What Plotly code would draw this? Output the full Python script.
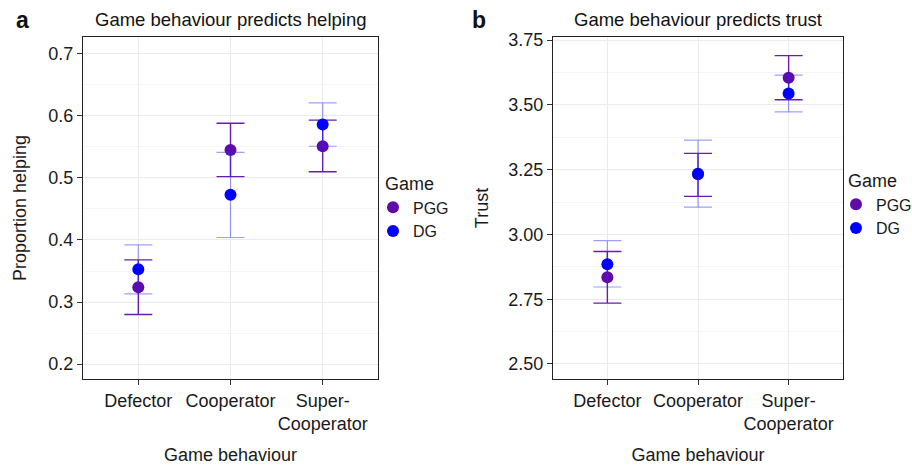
import plotly.graph_objects as go

categories = ["Defector", "Cooperator", "Super-Cooperator"]
tick_labels = ["Defector", "Cooperator", "Super-<br>Cooperator"]

# Panel a: proportion helping
help_pgg = [0.324, 0.545, 0.551]
help_pgg_lo = [0.280, 0.502, 0.510]
help_pgg_hi = [0.368, 0.588, 0.593]
help_dg = [0.353, 0.473, 0.586]
help_dg_lo = [0.313, 0.404, 0.551]
help_dg_hi = [0.392, 0.541, 0.621]

# Panel b: trust
trust_pgg = [2.835, 3.232, 3.605]
trust_pgg_lo = [2.735, 3.147, 3.520]
trust_pgg_hi = [2.934, 3.313, 3.690]
trust_dg = [2.885, 3.234, 3.544]
trust_dg_lo = [2.797, 3.105, 3.473]
trust_dg_hi = [2.976, 3.364, 3.615]

PGG_COL = "#5E0BA8"
PGG_ERR = "#6A1BB3"
DG_COL = "#0000FF"
DG_ERR = "rgba(40,40,255,0.45)"
FONT = "Liberation Sans, Arial, Helvetica, sans-serif"
FS = 18

W, H = 912, 468

def err(mean, lo, hi):
    return dict(type="data", symmetric=False,
                array=[h - m for h, m in zip(hi, mean)],
                arrayminus=[m - l for m, l in zip(mean, lo)])

fig = go.Figure()

def add_panel(xa, ya, leg, pgg, plo, phi, dg, dlo, dhi):
    e = err(pgg, plo, phi)
    e.update(color=PGG_ERR, thickness=1.4, width=14)
    fig.add_trace(go.Scatter(x=categories, y=pgg, mode="markers", name="PGG",
                             xaxis=xa, yaxis=ya, legend=leg,
                             marker=dict(color=PGG_COL, size=12),
                             error_y=e))
    e = err(dg, dlo, dhi)
    e.update(color=DG_ERR, thickness=1.2, width=14)
    fig.add_trace(go.Scatter(x=categories, y=dg, mode="markers", name="DG",
                             xaxis=xa, yaxis=ya, legend=leg,
                             marker=dict(color=DG_COL, size=12),
                             error_y=e))

add_panel("x", "y", "legend", help_pgg, help_pgg_lo, help_pgg_hi,
          help_dg, help_dg_lo, help_dg_hi)
add_panel("x2", "y2", "legend2", trust_pgg, trust_pgg_lo, trust_pgg_hi,
          trust_dg, trust_dg_lo, trust_dg_hi)

GRID = "#EBEBEF"
MINOR = "#F5F5F7"

xcommon = dict(type="category", categoryorder="array", categoryarray=categories,
               tickvals=categories, ticktext=tick_labels, tickangle=0,
               range=[-0.6, 2.6], showgrid=True, gridcolor=GRID, gridwidth=1,
               showline=True, linecolor="#222", linewidth=1.3, mirror=True,
               ticks="outside", ticklen=5, tickcolor="#333", automargin=False,
               tickfont=dict(family=FONT, size=FS, color="#1a1a1a"),
               title=dict(text="Game behaviour", font=dict(family=FONT, size=FS, color="#1a1a1a"), standoff=15),
               zeroline=False, fixedrange=True)
ycommon = dict(showgrid=True, gridcolor=GRID, gridwidth=1,
               showline=True, linecolor="#222", linewidth=1.3, mirror=True,
               ticks="outside", ticklen=5, tickcolor="#333", automargin=False,
               tickfont=dict(family=FONT, size=FS, color="#1a1a1a"),
               zeroline=False)

ydom = [1 - 379 / H, 1 - 37 / H]
LEG_FS = 16

fig.update_layout(
    width=W, height=H,
    margin=dict(l=0, r=0, t=0, b=0, autoexpand=False),
    paper_bgcolor="white", plot_bgcolor="white",
    font=dict(family=FONT, size=FS, color="#1a1a1a"),
    xaxis=dict(xcommon, domain=[83 / W, 378 / W], anchor="y"),
    xaxis2=dict(xcommon, domain=[553 / W, 843 / W], anchor="y2"),
    yaxis=dict(ycommon, domain=ydom, anchor="x", range=[0.176, 0.727],
               tickvals=[0.2, 0.3, 0.4, 0.5, 0.6, 0.7], tickformat=".1f",
               minor=dict(tickvals=[0.25, 0.35, 0.45, 0.55, 0.65], showgrid=True, gridcolor=MINOR, ticklen=0),
               title=dict(text="Proportion helping", standoff=16,
                          font=dict(family=FONT, size=FS, color="#1a1a1a"))),
    yaxis2=dict(ycommon, domain=ydom, anchor="x2", range=[2.442, 3.762],
                tickvals=[2.5, 2.75, 3.0, 3.25, 3.5, 3.75], tickformat=".2f",
                minor=dict(tickvals=[2.625, 2.875, 3.125, 3.375, 3.625], showgrid=True, gridcolor=MINOR, ticklen=0),
                title=dict(text="Trust", standoff=14,
                           font=dict(family=FONT, size=FS, color="#1a1a1a"))),
    legend=dict(x=383 / W, xanchor="left", y=1 - 167 / H, yanchor="top",
                title=dict(text="Game", font=dict(family=FONT, size=FS)),
                font=dict(family=FONT, size=LEG_FS), bgcolor="rgba(0,0,0,0)",
                tracegroupgap=0, itemwidth=30, indentation=-10),
    legend2=dict(x=846 / W, xanchor="left", y=1 - 164 / H, yanchor="top",
                 title=dict(text="Game", font=dict(family=FONT, size=FS)),
                 font=dict(family=FONT, size=LEG_FS), bgcolor="rgba(0,0,0,0)",
                 tracegroupgap=0, itemwidth=30, indentation=-10),
    showlegend=True,
)

ann = [
    dict(text="<b>a</b>", x=14 / W, y=1 - 20 / H, xanchor="left", yanchor="middle", font=dict(size=23)),
    dict(text="<b>b</b>", x=470 / W, y=1 - 20 / H, xanchor="left", yanchor="middle", font=dict(size=23)),
    dict(text="Game behaviour predicts helping", x=230.5 / W, y=1 - 20 / H, xanchor="center", yanchor="middle", font=dict(size=18.5)),
    dict(text="Game behaviour predicts trust", x=698 / W, y=1 - 20 / H, xanchor="center", yanchor="middle", font=dict(size=18.5)),
]
for a in ann:
    a.update(xref="paper", yref="paper", showarrow=False)
    a["font"].update(family=FONT, color="#111")
fig.update_layout(annotations=ann)

fig.write_html("out.html", config={"displayModeBar": False},
               post_script="document.body.style.margin='0';document.body.style.overflow='hidden';")
